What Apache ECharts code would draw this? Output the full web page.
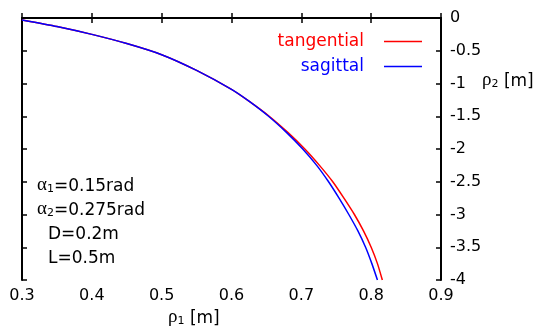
<!DOCTYPE html>
<html>
<head>
<meta charset="utf-8">
<script src="https://cdn.jsdelivr.net/npm/echarts@6/dist/echarts.min.js"></script>
<style>
html,body{margin:0;padding:0;background:#fff;}
#main{width:533px;height:328px;}
</style>
</head>
<body>
<div id="main"></div>
<script>
// values
var rho1Tangential = [0.30, 0.35, 0.40, 0.45, 0.50, 0.55, 0.60, 0.625, 0.654, 0.681, 0.705, 0.726, 0.745, 0.761, 0.776, 0.789, 0.800, 0.809, 0.816];
var rho2Tangential = [-0.03, -0.13, -0.25, -0.39, -0.56, -0.80, -1.09, -1.27, -1.5, -1.75, -2.0, -2.25, -2.5, -2.75, -3.0, -3.25, -3.5, -3.75, -4.0];
var rho1Sagittal = [0.30, 0.35, 0.40, 0.45, 0.50, 0.55, 0.60, 0.625, 0.653, 0.679, 0.702, 0.722, 0.739, 0.754, 0.768, 0.781, 0.792, 0.801, 0.809];
var rho2Sagittal = [-0.03, -0.13, -0.25, -0.39, -0.56, -0.80, -1.09, -1.27, -1.5, -1.75, -2.0, -2.25, -2.5, -2.75, -3.0, -3.25, -3.5, -3.75, -4.0];
var seriesNames = ['tangential', 'sagittal'];
var notes = [
	'{g|α}{s|1}{t|=0.15rad}',
	'{g|α}{s|2}{t|=0.275rad}',
	'{t|D=0.2m}',
	'{t|L=0.5m}'
];

function pairs(xs, ys) {
	var out = [];
	for (var i = 0; i < xs.length; i++) {
		out.push([xs[i], ys[i]]);
	}
	return out;
}

var sans = 'DejaVu Sans';
var rich = {
	g: {fontFamily: 'Liberation Serif', fontSize: 19, color: '#000', verticalAlign: 'bottom', lineHeight: 19},
	s: {fontFamily: sans, fontSize: 11, color: '#000', verticalAlign: 'bottom', lineHeight: 14},
	t: {fontFamily: sans, fontSize: 17, color: '#000', verticalAlign: 'bottom', lineHeight: 19}
};

var noteGraphics = [];
var noteLeft = [37, 37, 48, 48];
var noteTop = [176, 200, 226, 250];
for (var i = 0; i < notes.length; i++) {
	noteGraphics.push({
		type: 'text', left: noteLeft[i], top: noteTop[i],
		style: {text: notes[i], rich: rich}
	});
}

var axisLine = {lineStyle: {color: '#000', width: 2}};
var axisTick = {inside: true, length: 5, lineStyle: {color: '#000', width: 1.5}};

var chart = echarts.init(document.getElementById('main'));
var option = {
	animation: false,
	backgroundColor: '#fff',
	grid: {left: 22, right: 92, top: 18, bottom: 48},
	legend: [{
		data: [{name: seriesNames[0], textStyle: {color: '#ff0000'}}],
		right: 106, top: 28, align: 'right', icon: 'rect', itemWidth: 38, itemHeight: 1.5,
		textStyle: {fontFamily: sans, fontSize: 17, padding: [0, 15, 0, 0]}
	}, {
		data: [{name: seriesNames[1], textStyle: {color: '#0000ff'}}],
		right: 106, top: 53, align: 'right', icon: 'rect', itemWidth: 38, itemHeight: 1.5,
		textStyle: {fontFamily: sans, fontSize: 17, padding: [0, 15, 0, 0]}
	}],
	xAxis: [{
		type: 'value', position: 'bottom', min: 0.3, max: 0.9, interval: 0.1,
		axisLine: axisLine, axisTick: axisTick, splitLine: {show: false},
		axisLabel: {color: '#000', fontFamily: sans, fontSize: 16, margin: 8}
	}, {
		type: 'value', position: 'top', min: 0.3, max: 0.9, interval: 0.1,
		axisLine: axisLine, axisTick: axisTick, splitLine: {show: false},
		axisLabel: {show: false}
	}],
	yAxis: [{
		type: 'value', position: 'right', min: -4, max: 0, interval: 0.5,
		axisLine: axisLine, axisTick: axisTick, splitLine: {show: false},
		axisLabel: {color: '#000', fontFamily: sans, fontSize: 16, margin: 9}
	}, {
		type: 'value', position: 'left', min: -4, max: 0, interval: 0.5,
		axisLine: axisLine, axisTick: axisTick, splitLine: {show: false},
		axisLabel: {show: false}
	}],
	graphic: [{
		type: 'text', left: 168, top: 308,
		style: {text: '{g|ρ}{s|1}{t| [m]}', rich: rich}
	}, {
		type: 'text', left: 482, top: 71,
		style: {text: '{g|ρ}{s|2}{t| [m]}', rich: rich}
	}].concat(noteGraphics),
	series: [{
		name: seriesNames[0], type: 'line', showSymbol: false, smooth: 0.2,
		xAxisIndex: 0, yAxisIndex: 0,
		itemStyle: {color: '#ff0000'},
		lineStyle: {color: '#ff0000', width: 1.5},
		data: pairs(rho1Tangential, rho2Tangential)
	}, {
		name: seriesNames[1], type: 'line', showSymbol: false, smooth: 0.2,
		xAxisIndex: 0, yAxisIndex: 0,
		itemStyle: {color: '#0000ff'},
		lineStyle: {color: '#0000ff', width: 1.5},
		data: pairs(rho1Sagittal, rho2Sagittal)
	}]
};
chart.setOption(option);
</script>
</body>
</html>
